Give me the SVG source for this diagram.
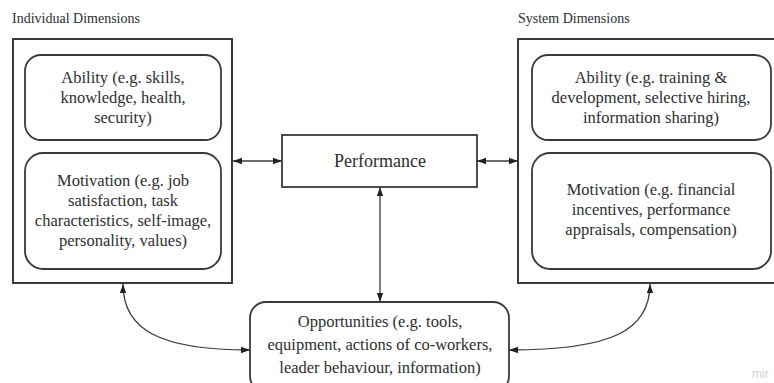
<svg xmlns="http://www.w3.org/2000/svg" width="774" height="383" viewBox="0 0 774 383">
<defs>
<style>
.t{font-family:"Liberation Serif","Times New Roman",serif;font-size:16.5px;fill:#2e2e2e;text-anchor:middle}
.h{font-family:"Liberation Serif","Times New Roman",serif;font-size:14px;fill:#2e2e2e}
.outer{fill:#fff;stroke:#3a3a3a;stroke-width:2}
.rb{fill:#fff;stroke:#3a3a3a;stroke-width:1.8}
.c{fill:none;stroke:#3a3a3a;stroke-width:1.3}
</style>
<marker id="ah" viewBox="0 0 10 10" refX="10" refY="5" markerWidth="9" markerHeight="9" markerUnits="userSpaceOnUse" orient="auto-start-reverse">
<path d="M0,1.5 L10,5 L0,8.5 Z" fill="#222"/>
</marker>
</defs>
<rect width="774" height="383" fill="#fff"/>
<text class="h" x="12" y="23">Individual Dimensions</text>
<text class="h" x="518" y="23">System Dimensions</text>
<g id="individual">
<rect class="outer" x="13" y="39" width="219" height="244"/>
<g id="ind-ability">
<rect class="rb" x="25" y="55" width="196" height="85" rx="16"/>
<text class="t" x="123" y="82.5">Ability (e.g. skills,</text>
<text class="t" x="123" y="102.5">knowledge, health,</text>
<text class="t" x="123" y="122.5">security)</text>
</g>
<g id="ind-motivation">
<rect class="rb" x="25" y="153" width="196" height="116" rx="18"/>
<text class="t" x="123" y="185.5">Motivation (e.g. job</text>
<text class="t" x="123" y="205.5">satisfaction, task</text>
<text class="t" x="123" y="225.5">characteristics, self-image,</text>
<text class="t" x="123" y="245.5">personality, values)</text>
</g>
</g>
<g id="system">
<rect class="outer" x="518" y="39" width="262" height="244"/>
<g id="sys-ability">
<rect class="rb" x="532" y="55" width="239" height="85" rx="16"/>
<text class="t" x="651" y="82.5">Ability (e.g. training &amp;</text>
<text class="t" x="651" y="102.5">development, selective hiring,</text>
<text class="t" x="651" y="122.5">information sharing)</text>
</g>
<g id="sys-motivation">
<rect class="rb" x="532" y="153" width="239" height="116" rx="18"/>
<text class="t" x="651" y="194.5">Motivation (e.g. financial</text>
<text class="t" x="651" y="214.5">incentives, performance</text>
<text class="t" x="651" y="234.5">appraisals, compensation)</text>
</g>
</g>
<g id="performance">
<rect class="rb" x="282" y="135" width="195" height="52"/>
<text class="t" x="380" y="167" style="font-size:18px">Performance</text>
</g>
<g id="opportunities">
<rect class="rb" x="250" y="302" width="259" height="90" rx="16"/>
<text class="t" x="380" y="327">Opportunities (e.g. tools,</text>
<text class="t" x="380" y="350">equipment, actions of co-workers,</text>
<text class="t" x="380" y="373">leader behaviour, information)</text>
</g>
<g id="connectors">
<line class="c" x1="233" y1="161" x2="282" y2="161" marker-start="url(#ah)" marker-end="url(#ah)"/>
<line class="c" x1="477" y1="161" x2="518" y2="161" marker-start="url(#ah)" marker-end="url(#ah)"/>
<line class="c" x1="380" y1="187" x2="380" y2="302" marker-start="url(#ah)" marker-end="url(#ah)"/>
<path class="c" d="M123,284 C123,330 160,350 250,350" marker-start="url(#ah)" marker-end="url(#ah)"/>
<path class="c" d="M650,284 C650,330 613,350 509,350" marker-start="url(#ah)" marker-end="url(#ah)"/>
</g>
<text x="752" y="378" style="font-family:'Liberation Sans',sans-serif;font-size:12px;fill:#cfcfcf">mir</text>
</svg>
